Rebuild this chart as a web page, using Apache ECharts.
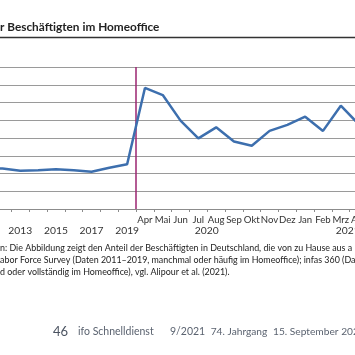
<!DOCTYPE html>
<html><head><meta charset="utf-8">
<script src="https://cdn.jsdelivr.net/npm/echarts@6/dist/echarts.min.js"></script>
<style>html,body{margin:0;padding:0;background:#fff}#c{width:355px;height:355px}</style>
</head><body><div id="c"></div><script>
// Categories: annual 2011-2019, then monthly Apr 2020 - Apr 2021
const categories = ['2011','2012','2013','2014','2015','2016','2017','2018','2019',
  'Apr 2020','Mai 2020','Jun 2020','Jul 2020','Aug 2020','Sep 2020','Okt 2020','Nov 2020','Dez 2020',
  'Jan 2021','Feb 2021','Mrz 2021','Apr 2021'];
// Share of employees working from home (%)
const shareValues = [11.6, 11.4, 10.8, 10.9, 11.2, 10.9, 10.5, 11.6, 12.6,
  34.1, 32.1, 24.9, 19.9, 23.0, 19.0, 17.8, 22.0, 23.7,
  26.0, 22.0, 29.1, 23.9];
const monthLabels = ['','','','','','','','','',
  'Apr','Mai','Jun','Jul','Aug','Sep','Okt','Nov','Dez','Jan','Feb','Mrz','Apr'];
const yearLabels = ['2011','','2013','','2015','','2017','','2019',
  '','','','','2020','','','','','','','2021',''];
const yMin = 0, yMax = 40, yStep = 5;

const FONT = 'Lato';
const chart = echarts.init(document.getElementById('c'), null, {renderer:'canvas'});
chart.setOption({
  animation: false,
  backgroundColor: '#ffffff',
  grid: {left: -24.2, right: -12.5, top: 67, bottom: 146, outerBoundsMode: 'none', containLabel: false},
  xAxis: [{
    type: 'category', data: categories, boundaryGap: true, position: 'bottom',
    axisLine: {show: true, lineStyle: {color: '#8c8c8c', width: 1}},
    axisTick: {show: true, length: 3, interval: 0, lineStyle: {color: '#8c8c8c'}},
    axisLabel: {interval: 0, margin: 6, color: '#333', fontFamily: FONT, fontSize: 9.6,
      formatter: (v, i) => monthLabels[i]},
    splitLine: {show: false}
  }, {
    type: 'category', data: categories, boundaryGap: true, position: 'bottom',
    axisLine: {show: false}, axisTick: {show: false},
    axisLabel: {interval: 0, margin: 17, color: '#333', fontFamily: FONT, fontSize: 10.3,
      formatter: (v, i) => {
        const y = yearLabels[i];
        if (!y) return '';
        if (y === '2020') return '{a|' + y + '}';
        if (y === '2021') return '{b|' + y + '}';
        return y;
      },
      rich: {
        a: {fontFamily: FONT, fontSize: 10.3, color: '#333', padding: [0, 19, 0, 0]},
        b: {fontFamily: FONT, fontSize: 10.3, color: '#333', padding: [0, 0, 0, 14]}
      }
    },
    splitLine: {show: true, interval: (i) => i === 0 || i === 9,
      lineStyle: {color: '#9b2470', width: 1.5}}
  }],
  yAxis: {
    type: 'value', min: yMin, max: yMax, interval: yStep,
    axisLine: {show: false}, axisTick: {show: false}, axisLabel: {show: false},
    splitLine: {show: true, lineStyle: {color: '#9a9a9a', width: 1}}
  },
  series: [{
    type: 'line', xAxisIndex: 0, data: shareValues, showSymbol: false, symbol: 'none',
    lineStyle: {color: '#3d6fae', width: 2.5}, z: 5
  }],
  graphic: [
    {type: 'text', left: 0, top: 21, style: {text: 'r Beschäftigten im Homeoffice', fontFamily: FONT, fontWeight: 'bold', fontSize: 11.8, fill: '#222'}},
    {type: 'rect', shape: {x: 0, y: 36.8, width: 355, height: 1.5}, style: {fill: '#333'}},
    {type: 'text', x: 0, y: 248.3, style: {text: 'n: Die Abbildung zeigt den Anteil der Beschäftigten in Deutschland, die von zu Hause aus a', fontFamily: FONT, fontSize: 8.9, fill: '#222', verticalAlign: 'middle'}},
    {type: 'text', x: 0, y: 260, style: {text: 'abor Force Survey (Daten 2011–2019, manchmal oder häufig im Homeoffice); infas 360 (Daten', fontFamily: FONT, fontSize: 8.9, fill: '#222', verticalAlign: 'middle'}},
    {type: 'text', x: 0, y: 271.7, style: {text: 'd oder vollständig im Homeoffice), vgl. Alipour et al. (2021).', fontFamily: FONT, fontSize: 8.9, fill: '#222', verticalAlign: 'middle'}},
    {type: 'text', x: 53, y: 332, style: {text: '46', fontFamily: FONT, fontSize: 13, fill: '#4a5260', verticalAlign: 'middle'}},
    {type: 'text', x: 78, y: 332, style: {text: 'ifo Schnelldienst', fontFamily: FONT, fontSize: 10.5, fill: '#5b6370', verticalAlign: 'middle'}},
    {type: 'text', x: 170, y: 332, style: {text: '9/2021', fontFamily: FONT, fontSize: 10.5, fill: '#5b6370', verticalAlign: 'middle'}},
    {type: 'text', x: 210.7, y: 332, style: {text: '74. Jahrgang', fontFamily: FONT, fontSize: 10.2, fill: '#5b6370', verticalAlign: 'middle'}},
    {type: 'text', x: 273, y: 332, style: {text: '15. September 2021', fontFamily: FONT, fontSize: 10.2, fill: '#5b6370', verticalAlign: 'middle'}}
  ]
});
</script></body></html>
